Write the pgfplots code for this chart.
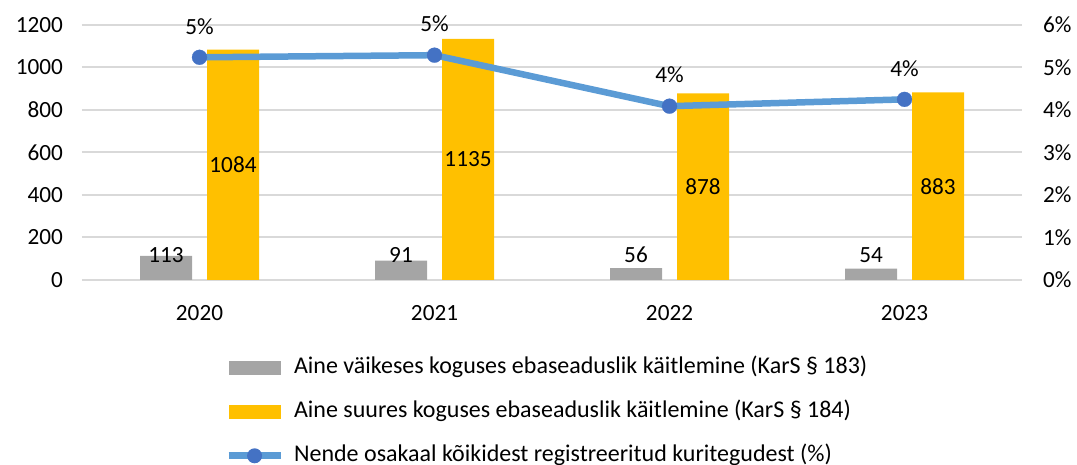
\documentclass[border=0pt]{standalone}
\usepackage{pgfplots}
\pgfplotsset{compat=1.18}
\usepackage{fontspec}
\setmainfont{Carlito}
\definecolor{cgrey}{HTML}{A5A5A5}
\definecolor{corange}{HTML}{FFC000}
\definecolor{cline}{HTML}{5B9BD5}
\definecolor{cmark}{HTML}{4472C4}
\definecolor{cgrid}{HTML}{D9D9D9}
\begin{document}
\begin{tikzpicture}[font=\fontsize{11.6}{14}\selectfont]
\pgfplotsset{
  base/.style={scale only axis, width=470pt, height=127.5pt, xmin=-0.5, xmax=3.5,
    xtick={0,1,2,3}, major tick length=0pt, axis line style={draw=none},
    /pgf/number format/assume math mode=true,
    /pgf/number format/set thousands separator={},
    tick label style={font=\fontsize{11.6}{14}\selectfont, text=black}},
}
\begin{axis}[base, name=main, ymin=0, ymax=1200, ytick={0,200,...,1200},
  ymajorgrids, grid style={cgrid, line width=1pt},
  xticklabels={2020,2021,2022,2023},
  ybar=7.5pt, bar width=26pt,
  yticklabel style={xshift=-6pt},
  xticklabel style={yshift=-9pt}]
\addplot[fill=cgrey, draw=none, nodes near coords,
  visualization depends on={rawy \as \myy},
  every node near coord/.append style={anchor=center, text=black, yshift={12.5pt-\myy*0.10625pt}}]
  coordinates {(0,113) (1,91) (2,56) (3,54)};
\addplot[fill=corange, draw=none, nodes near coords,
  visualization depends on={rawy \as \myy},
  every node near coord/.append style={anchor=center, text=black, yshift={-\myy*0.053125pt}}]
  coordinates {(0,1084) (1,1135) (2,878) (3,883)};
\end{axis}
\begin{axis}[base, axis y line*=right, axis x line=none, ymin=0, ymax=6, ytick={0,1,...,6},
  yticklabel={\pgfmathprintnumber{\tick}\%},
  yticklabel style={xshift=7pt},
  legend style={draw=none, fill=none, at={(0.1454,-0.28)}, anchor=north west,
    legend cell align=left, row sep=10pt, font=\fontsize{12}{14}\selectfont,
    nodes={inner sep=0pt, text height=9pt, text depth=3pt},
    /tikz/every odd column/.append style={column sep=5pt}}]
\addlegendimage{legend image code/.code={\fill[cgrey, draw=none] (0pt,-3.5pt) rectangle (26pt,3.5pt);}}
\addlegendentry{Aine väikeses koguses ebaseaduslik käitlemine (KarS § 183)}
\addlegendimage{legend image code/.code={\fill[corange, draw=none] (0pt,-3.5pt) rectangle (26pt,3.5pt);}}
\addlegendentry{Aine suures koguses ebaseaduslik käitlemine (KarS § 184)}
\addplot[cline, line width=3.25pt, mark=*, mark size=3.75pt,
  mark options={fill=cmark, draw=cmark, line width=0.1pt},
  nodes near coords={\pgfmathprintnumber[fixed,precision=0]{\pgfplotspointmeta}\%},
  every node near coord/.style={anchor=center, text=black, yshift=15.5pt},
  legend image code/.code={\draw[cline, line width=3.5pt] (0pt,0pt) -- (26pt,0pt); \fill[cmark, draw=none] (13pt,0pt) circle (3.75pt);}]
  coordinates {(0,5.24) (1,5.29) (2,4.09) (3,4.25)};
\addlegendentry{Nende osakaal kõikidest registreeritud kuritegudest (\%)}
\end{axis}
\pgfresetboundingbox
\path[use as bounding box] ([shift={(-41pt,-92pt)}]main.south west) rectangle ([shift={(27.5pt,12.5pt)}]main.north east);
\end{tikzpicture}
\end{document}
